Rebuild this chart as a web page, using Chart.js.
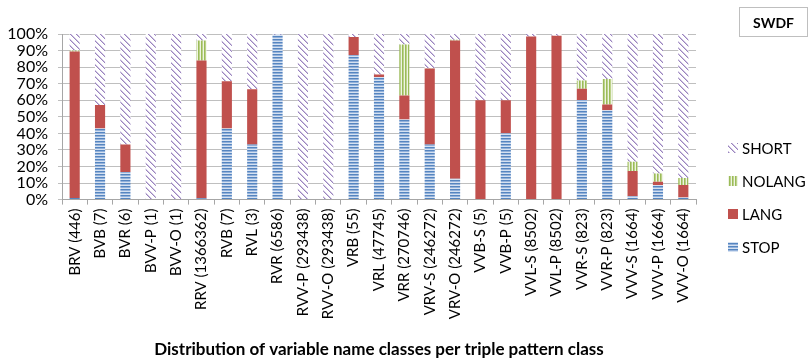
<!DOCTYPE html>
<html>
<head>
<meta charset="utf-8">
<script src="https://cdn.jsdelivr.net/npm/chart.js@4"></script>
<style>
  html, body { margin: 0; padding: 0; background: #fff; }
  #wrap { width: 810px; height: 361px; }
</style>
</head>
<body>
<div id="wrap"><canvas id="chart" width="810" height="361"></canvas></div>
<script>
// Triple pattern classes (x axis)
const categories = ['BRV (446)', 'BVB (7)', 'BVR (6)', 'BVV-P (1)', 'BVV-O (1)', 'RRV (1366362)',
  'RVB (7)', 'RVL (3)', 'RVR (6586)', 'RVV-P (293438)', 'RVV-O (293438)', 'VRB (55)',
  'VRL (47745)', 'VRR (270746)', 'VRV-S (246272)', 'VRV-O (246272)', 'VVB-S (5)', 'VVB-P (5)',
  'VVL-S (8502)', 'VVL-P (8502)', 'VVR-S (823)', 'VVR-P (823)', 'VVV-S (1664)', 'VVV-P (1664)', 'VVV-O (1664)'];

// Share of each variable name class, in percent
const stopVals   = [1, 42.9, 16.7, 0, 0, 0.8, 42.9, 33.3, 99.6, 0, 0, 87.3, 74.1, 48.4, 33.3, 12.6, 0, 40, 0, 0, 60.2, 54.0, 2.0, 8.8, 1.2];
const langVals   = [88.5, 14.2, 16.6, 0, 0, 83.2, 28.5, 33.3, 0, 0, 0, 10.9, 1.4, 14.4, 45.8, 83.4, 60, 20, 98.5, 99, 6.7, 3.4, 15.2, 2.0, 7.6];
const nolangVals = [0.5, 0, 0, 0, 0, 12.1, 0, 0, 0, 0, 0, 0, 0, 30.8, 0.2, 0.5, 0, 0, 0, 0, 5.0, 15.5, 5.7, 4.9, 4.2];
const shortVals  = [10, 42.9, 66.7, 100, 100, 3.9, 28.6, 33.4, 0.4, 100, 100, 1.8, 24.5, 6.4, 20.7, 3.5, 40, 40, 1.5, 1, 28.1, 27.1, 77.1, 84.3, 87.0];

const yTicks = [0, 10, 20, 30, 40, 50, 60, 70, 80, 90, 100];

const FONT = "Lato, 'Liberation Sans', sans-serif";

// pattern helpers
function makeTile(w, h, draw) {
  const c = document.createElement('canvas');
  c.width = w; c.height = h;
  const g = c.getContext('2d');
  draw(g);
  return g.createPattern(c, 'repeat');
}

const stopPattern = makeTile(1, 3, g => {
  g.fillStyle = '#5585C0'; g.fillRect(0, 0, 1, 1);
  g.fillStyle = '#93B1DA'; g.fillRect(0, 1, 1, 1);
  g.fillStyle = '#D5E1F1'; g.fillRect(0, 2, 1, 1);
});

const nolangPattern = makeTile(3, 1, g => {
  g.fillStyle = '#9BBB59'; g.fillRect(0, 0, 1, 1);
  g.fillStyle = '#BCD28A'; g.fillRect(1, 0, 1, 1);
  g.fillStyle = '#EEF3E2'; g.fillRect(2, 0, 1, 1);
});

const shortPattern = makeTile(6, 6, g => {
  g.fillStyle = '#ffffff'; g.fillRect(0, 0, 6, 6);
  for (let i = 0; i < 6; i++) {
    g.fillStyle = '#9A84BE'; g.fillRect(i, i, 1, 1);
    g.fillStyle = '#CFC4E2'; g.fillRect((i + 1) % 6, i, 1, 1);
  }
});

const langColor = '#C0504D';

const legendItems = [
  { text: 'SHORT', fill: shortPattern, y: 148 },
  { text: 'NOLANG', fill: nolangPattern, y: 181 },
  { text: 'LANG', fill: langColor, y: 214 },
  { text: 'STOP', fill: stopPattern, y: 247 }
];

// draws the right-hand legend and the SWDF label box
const sidePlugin = {
  id: 'sideStuff',
  afterDraw(chart) {
    const ctx = chart.ctx;
    ctx.save();
    legendItems.forEach(item => {
      ctx.fillStyle = item.fill;
      ctx.fillRect(728, item.y - 5, 10, 10);
      ctx.fillStyle = '#000';
      ctx.font = '15px ' + FONT;
      ctx.textBaseline = 'middle';
      ctx.textAlign = 'left';
      ctx.fillText(item.text, 742, item.y + 1);
    });
    ctx.strokeStyle = '#BFBFBF';
    ctx.lineWidth = 1;
    ctx.strokeRect(739.5, 7.5, 68, 29);
    ctx.fillStyle = '#000';
    ctx.font = 'bold 14px ' + FONT;
    ctx.textAlign = 'center';
    ctx.fillText('SWDF', 773.5, 23);
    ctx.restore();
  }
};

function ds(label, data, fill) {
  return {
    label: label,
    data: data,
    backgroundColor: fill,
    borderWidth: 0,
    categoryPercentage: 1,
    barPercentage: 0.4
  };
}

new Chart(document.getElementById('chart'), {
  type: 'bar',
  data: {
    labels: categories,
    datasets: [
      ds('STOP', stopVals, stopPattern),
      ds('LANG', langVals, langColor),
      ds('NOLANG', nolangVals, nolangPattern),
      ds('SHORT', shortVals, shortPattern)
    ]
  },
  options: {
    responsive: false,
    animation: false,
    layout: { padding: { top: 34, right: 114, left: 0, bottom: 0 } },
    plugins: {
      legend: { display: false },
      tooltip: { enabled: false },
      title: {
        display: true,
        position: 'bottom',
        fullSize: false,
        text: 'Distribution of variable name classes per triple pattern class',
        color: '#000',
        font: { family: FONT, size: 17, weight: 'bold' },
        padding: { top: 0, bottom: 1 }
      }
    },
    scales: {
      x: {
        stacked: true,
        grid: { display: true, drawOnChartArea: false, tickLength: 5, color: '#A6A6A6', offset: true },
        border: { color: '#A6A6A6' },
        ticks: {
          minRotation: 90, maxRotation: 90, autoSkip: false, padding: 4,
          color: '#000', font: { family: FONT, size: 15 }
        },
        afterFit(scale) { scale.height = 140; }
      },
      y: {
        stacked: true,
        min: 0,
        max: 100,
        afterBuildTicks(scale) { scale.ticks = yTicks.map(v => ({ value: v })); },
        grid: { color: '#BFBFBF', tickLength: 4 },
        border: { color: '#A6A6A6' },
        ticks: {
          autoSkip: false,
          padding: 10,
          color: '#000',
          font: { family: FONT, size: 16 },
          callback: v => v + '%'
        },
        afterFit(scale) { scale.width = 62; }
      }
    }
  },
  plugins: [sidePlugin]
});
</script>
</body>
</html>
